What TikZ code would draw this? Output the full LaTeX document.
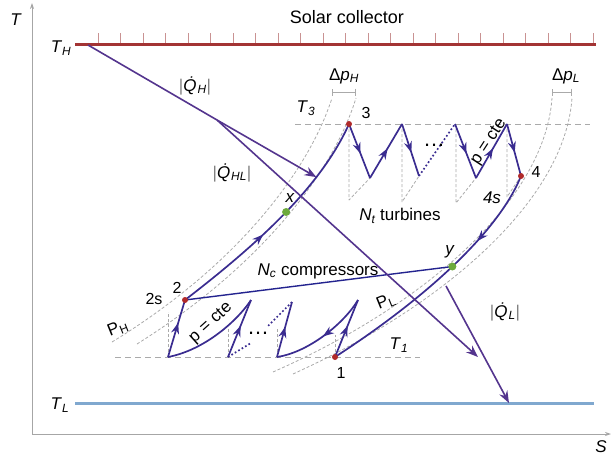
\documentclass[tikz,border=0pt]{standalone}
\usepackage{fontspec}
\setmainfont{Liberation Sans}
\usetikzlibrary{arrows.meta,decorations.markings}
\definecolor{heatc}{HTML}{54358E}
\definecolor{cycc}{HTML}{3A2C90}
\definecolor{nclc}{HTML}{23238F}
\definecolor{collc}{HTML}{A33434}
\definecolor{tickc}{HTML}{C99292}
\definecolor{coldc}{HTML}{80A8CF}
\definecolor{axisc}{HTML}{A6A6A6}
\definecolor{dshc}{HTML}{AAAAAA}
\definecolor{rdotc}{HTML}{B02A2A}
\definecolor{gdotc}{HTML}{6DAA3C}
\newcommand{\sbs}[1]{\textsubscript{\itshape #1}}
\newcommand{\sbu}[1]{\textsubscript{#1}}
\newcommand{\gbar}{{\color{gray}|}}
\tikzset{
  lab/.style={font=\fontsize{17}{20}\selectfont, inner sep=0pt, text=black},
  num/.style={font=\fontsize{16}{19}\selectfont, inner sep=0pt, text=black},
  dots/.style={font=\fontsize{22}{24}\selectfont, inner sep=0pt, text=black},
  axisline/.style={draw=axisc, line width=0.8pt},
  isobar/.style={draw=dshc, line width=0.8pt, dash pattern=on 3pt off 2pt},
  grayd/.style={draw=dshc, line width=0.9pt, dash pattern=on 6pt off 4pt},
  heatline/.style={color=heatc, line width=1.6pt},
  tip/.style={-{Stealth[length=12pt,width=9pt]}},
  cyc/.style={color=cycc, line width=1.7pt},
  dotl/.style={color=cycc, line width=1.7pt, dash pattern=on 1.7pt off 2.3pt},
  marr/.style={postaction={decorate}, decoration={markings, mark=at position #1 with {\arrow{Stealth[length=11pt,width=8pt]}}}},
  marr/.default=0.55,
  bracket/.style={draw=dshc, line width=0.9pt, {Bar[width=7pt]}-{Bar[width=7pt]}},
}
\begin{document}
\begin{tikzpicture}[x=1pt,y=-1pt, line join=round]
\useasboundingbox (0,0) rectangle (611,463);
% axes
\coordinate (O) at (32,434);
\coordinate (Tt) at (32,3);
\coordinate (Se) at (611,434);
\draw[axisline, -{Stealth[length=6pt,width=4pt]}] (O) -- (Tt);
\draw[axisline, -{Stealth[length=6pt,width=4pt]}] (O) -- (Se);
\node[lab] (lT) at (16,20) {\textit{T}};
\node[lab] (lS) at (601,447) {\textit{S}};
% collector
\coordinate (H0) at (75,44); \coordinate (H1) at (596,44);
\foreach \i in {0,...,22} \draw[tickc, line width=0.9pt] ({98+22.5*\i},44) -- ++(0,-11);
\draw[collc, line width=3pt] (H0) -- (H1);
\node[lab, font=\fontsize{18}{21}\selectfont] (lsc) at (347,17) {Solar collector};
\node[lab] (lTH) at (61,48) {\textit{T}\sbs{H}};
% cold
\coordinate (L0) at (75,403); \coordinate (L1) at (594,403);
\draw[coldc, line width=3pt] (L0) -- (L1);
\node[lab] (lTL) at (60,405) {\textit{T}\sbs{L}};
% isobars
\draw[isobar] (112,342) .. controls (238,265) and (309,170) .. (332,98);
\draw[isobar] (137,344) .. controls (263,265) and (334,170) .. (356,98);
\draw[isobar] (273,372) .. controls (425,305) and (545,200) .. (552,98);
\draw[isobar] (293,374) .. controls (445,305) and (565,200) .. (572,98);
\coordinate (bh0) at (332,92); \coordinate (bh1) at (356,92);
\coordinate (bl0) at (552,92); \coordinate (bl1) at (572,92);
\draw[bracket] (bh0) -- (bh1);
\draw[bracket] (bl0) -- (bl1);
\node[lab] (ldpH) at (344,76) {Δ\textit{p}\sbs{H}};
\node[lab] (ldpL) at (566,76) {Δ\textit{p}\sbs{L}};
% isotherms
\coordinate (T3a) at (295,124); \coordinate (T3b) at (590,124);
\coordinate (T1a) at (115,357); \coordinate (T1b) at (420,357);
\draw[grayd] (T3a) -- (T3b);
\draw[grayd] (T1a) -- (T1b);
% turbine helpers
\draw[isobar] (349,124) -- (349,200) -- (370,178);
\draw[isobar] (402,124) -- (402,202) -- (419,176);
\draw[isobar] (456,124) -- (456,203) -- (476,178);
\draw[isobar] (507,124) -- (507,197) -- (521,176);
% compressor helpers
\draw[isobar] (168,357) -- (168,312);
\draw[isobar] (228,357) -- (228,328);
\draw[isobar] (277,357) -- (277,328);
\draw[isobar] (335,357) -- (335,335);
% main points
\coordinate (p2) at (185,300);
\coordinate (p3) at (349,124);
\coordinate (p4) at (521,176);
\coordinate (p1) at (335,357);
\draw[cyc, marr=0.42] (p2) .. controls (263,240) and (322,184) .. (p3)
   coordinate[pos=0.5] (px) coordinate[pos=0.7] (qhe);
\draw[cyc, marr=0.3] (p4) .. controls (498,233) and (423,300) .. (p1)
   coordinate[pos=0.5] (py);
% turbines
\coordinate (ta) at (370,178); \coordinate (tb) at (402,124); \coordinate (tc) at (419,176);
\coordinate (td) at (455,124); \coordinate (te) at (476,178); \coordinate (tf) at (507,124);
\draw[cyc, marr] (p3) -- (ta);
\draw[cyc, marr] (ta) -- (tb);
\draw[cyc, marr] (tb) -- (tc);
\draw[dotl] (tc) -- (td);
\draw[cyc, marr] (td) -- (te);
\draw[cyc, marr] (te) -- (tf);
\draw[cyc, marr] (tf) -- (p4);
% compressors
\coordinate (cb0) at (168,357); \coordinate (ct1) at (251,300); \coordinate (cb1) at (228,357);
\coordinate (cd1) at (251,343); \coordinate (ct2) at (292,302); \coordinate (cd2) at (267,327);
\coordinate (cb2) at (277,357); \coordinate (ct3) at (358,300);
\draw[cyc, marr=0.6] (cb0) -- (p2);
\draw[cyc] (ct1) .. controls (238,320) and (205,350) .. (cb0);
\draw[cyc, marr] (cb1) -- (ct1);
\draw[dotl] (cb1) -- (cd1);
\draw[dotl] (ct2) -- (cd2);
\draw[cyc, marr] (cb2) -- (ct2);
\draw[cyc, marr=0.5] (ct3) .. controls (345,322) and (310,352) .. (cb2);
\draw[cyc, marr] (p1) -- (ct3);
% Nc line
\draw[nclc, line width=1.4pt] (p2) -- (py);
% heat flows
\coordinate (qh0) at (88,45);
\coordinate (qs) at (217,120);
\coordinate (qhl) at (478,357);
\coordinate (ql0) at (446,286);
\coordinate (ql1) at (509,403);
\draw[heatline] (qh0) -- (qs);
\draw[heatline, tip] (qs) -- (qhe);
\draw[heatline, tip] (qs) -- (qhl);
\draw[heatline, tip] (ql0) -- (ql1);
% dots
\fill[rdotc] (p2) circle (3pt);
\fill[rdotc] (p3) circle (3pt);
\fill[rdotc] (p4) circle (3pt);
\fill[rdotc] (p1) circle (3pt);
\fill[gdotc] (px) circle (4pt);
\fill[gdotc] (py) circle (4pt);
% labels
\node[lab] (lQH) at (195,86) {\gbar\textit{\.{Q}}\sbs{H}\gbar};
\node[lab] (lQHL) at (232,173) {\gbar\textit{\.{Q}}\sbs{HL}\gbar};
\node[lab] (lQL) at (505,312) {\gbar\textit{\.{Q}}\sbs{L}\gbar};
\node[lab] (lT3) at (306,108) {\textit{T}\sbs{3}};
\node[num] (l3) at (366,113) {3};
\node[lab] (lx) at (290,198) {\textit{x}};
\node[lab] (lNt) at (400,216) {\textit{N}\sbs{t} turbines};
\node[num] (l4) at (536,172) {4};
\node[lab] (l4s) at (492,198) {\textit{4s}};
\node[lab] (ly) at (450,252) {\textit{y}};
\node[num] (l2) at (177,288) {2};
\node[num] (l2s) at (154,299) {2s};
\node[lab, rotate=22] (lPH) at (118,328) {P\sbu{H}};
\node[lab, rotate=22] (lPL) at (386,302) {P\sbu{L}};
\node[lab, rotate=42] (lpc1) at (211,323) {p = cte};
\node[lab, rotate=57] (lpc2) at (489,142) {p = cte};
\node[lab] (lT1) at (399,345) {\textit{T}\sbs{1}};
\node[num] (l1) at (341,373) {1};
\node[dots] (ldt) at (434,145) {…};
\node[dots] (ldc) at (258,333) {…};
\node[lab] (lNc) at (318,271) {\textit{N}\sbs{c} compressors};
\end{tikzpicture}
\end{document}
